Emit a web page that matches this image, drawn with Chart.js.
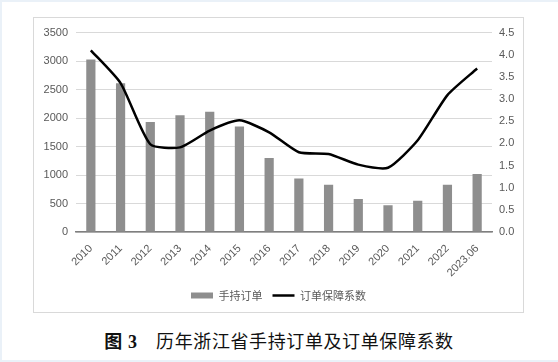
<!DOCTYPE html>
<html>
<head>
<meta charset="utf-8">
<script src="https://cdn.jsdelivr.net/npm/chart.js@4"></script>
<style>
  html, body { margin: 0; padding: 0; }
  body { width: 558px; height: 362px; background: #eaf1f8; position: relative; overflow: hidden; }
  #page { position: absolute; left: 2px; top: 2px; right: 0; bottom: 2px; background: #fff; }
  #box { position: absolute; left: 33px; top: 17px; width: 491px; height: 296px; border: 1px solid #d9d9d9; box-sizing: border-box; }
  #box canvas { position: absolute; left: 0; top: 0; }
  #caption { position: absolute; left: 0; width: 558px; top: 329px; text-align: center; font-family: "Noto Sans CJK SC", sans-serif; font-size: 18px; line-height: 22px; color: #111; letter-spacing: 0.6px; }
  #caption b { font-family: "Liberation Serif", "Noto Sans CJK SC", serif; }
</style>
</head>
<body>
<div id="page"></div>
<div id="box"><canvas id="chart" width="489" height="294"></canvas></div>
<div id="caption"><b>图 3</b>&nbsp;&nbsp;&nbsp; 历年浙江省手持订单及订单保障系数</div>
<script>
const years = ['2010', '2011', '2012', '2013', '2014', '2015', '2016', '2017', '2018', '2019', '2020', '2021', '2022', '2023.06'];
const orders = [3030, 2610, 1930, 2050, 2110, 1850, 1300, 940, 830, 580, 470, 550, 830, 1020];
const ratio = [4.10, 3.36, 1.98, 1.91, 2.29, 2.52, 2.25, 1.80, 1.76, 1.52, 1.45, 2.07, 3.09, 3.69];

const tickColor = '#595959';
const tickFont = { family: 'Liberation Sans, Arial, sans-serif', size: 11 };

var ctx = document.getElementById('chart').getContext('2d');
var chart = new Chart(ctx, {
  data: {
    labels: years,
    datasets: [
      {
        type: 'line',
        label: '订单保障系数',
        data: ratio,
        yAxisID: 'y2',
        borderColor: '#000',
        backgroundColor: '#000',
        borderWidth: 2.5,
        pointRadius: 0,
        pointStyle: 'line',
        tension: 0.2,
        order: 0
      },
      {
        type: 'bar',
        label: '手持订单',
        data: orders,
        yAxisID: 'y',
        backgroundColor: '#8e8e8e',
        pointStyle: 'rect',
        categoryPercentage: 1,
        barPercentage: 0.31,
        order: 1
      }
    ]
  },
  options: {
    responsive: false,
    animation: false,
    layout: { padding: { top: 13, left: 0, right: 0, bottom: 1 } },
    plugins: {
      legend: {
        position: 'bottom',
        reverse: true,
        labels: {
          usePointStyle: true,
          pointStyleWidth: 22,
          boxHeight: 6,
          padding: 10,
          color: tickColor,
          font: { family: 'Noto Sans CJK SC, sans-serif', size: 11 }
        }
      },
      tooltip: { enabled: false }
    },
    scales: {
      x: {
        grid: { display: false },
        border: { color: '#7f7f7f', width: 1.5 },
        ticks: { color: tickColor, font: tickFont, minRotation: 45, maxRotation: 45, padding: 2 },
        afterFit: (s) => { s.height = 48; }
      },
      y: {
        position: 'left',
        min: 0,
        max: 3500,
        ticks: { stepSize: 500, color: tickColor, font: tickFont, padding: 8, callback: (v) => String(v) },
        grid: { color: '#d9d9d9', drawTicks: false },
        border: { display: false },
        afterFit: (s) => { s.width = 42; }
      },
      y2: {
        position: 'right',
        min: 0,
        max: 4.5,
        ticks: { stepSize: 0.5, color: tickColor, font: tickFont, padding: 7, callback: (v) => v.toFixed(1) },
        grid: { display: false, drawTicks: false },
        border: { display: false },
        afterFit: (s) => { s.width = 31; }
      }
    }
  }
});
</script>
</body>
</html>
